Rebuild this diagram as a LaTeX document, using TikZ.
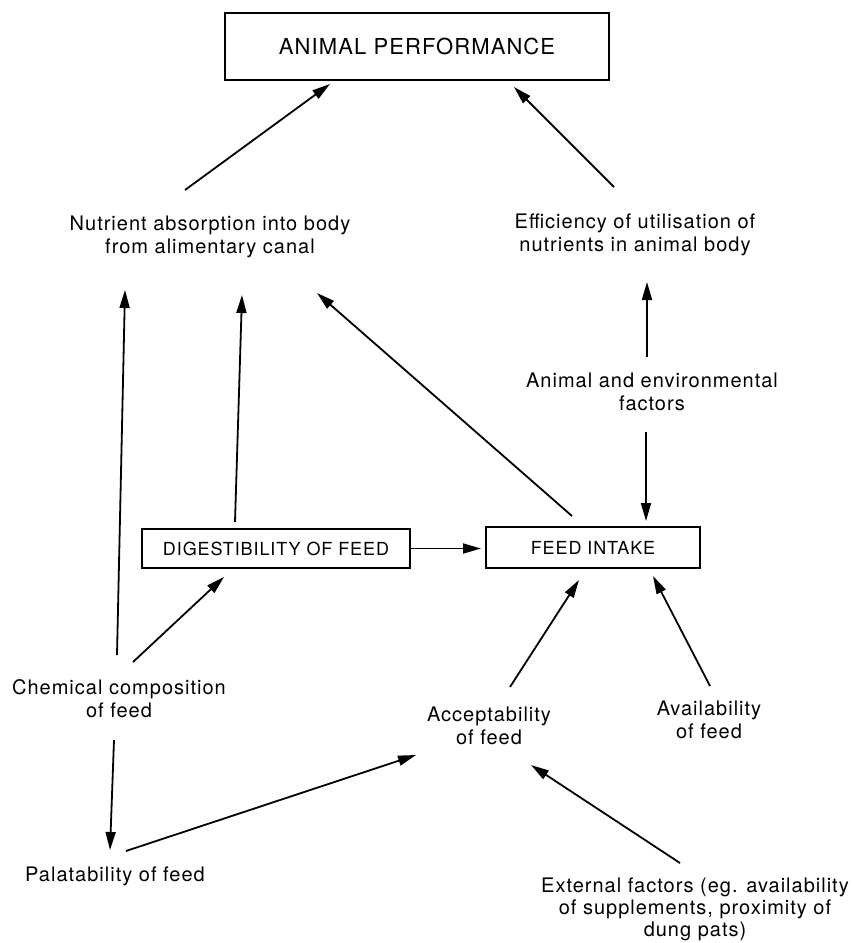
\documentclass[tikz,border=0pt]{standalone}
\usepackage{fontspec}
\setmainfont{TeX Gyre Heros}
\newfontfamily\diagfont{TeX Gyre Heros}[LetterSpace=5]
\usepackage{tikz}
\usetikzlibrary{arrows.meta}

\begin{document}
\begin{tikzpicture}[
        x=0.5pt, y=-0.5pt,
        txt/.style={
            align=center,
            inner sep=0pt,
            font=\diagfont\fontsize{10}{11.5}\selectfont
        },
        box/.style={
            draw,
            line width=1pt,
            inner sep=0pt,
            minimum width=#1,
            font=\diagfont\fontsize{9}{11}\selectfont
        },
        arr/.style={line width=0.9pt, -{Triangle[length=9pt,width=5pt]}}
    ]
    \useasboundingbox (0,0) rectangle (854,943);

    % Boxes
    \node[box=192pt, minimum height=33.5pt, font=\diagfont\fontsize{11}{13}\selectfont] (perf) at (417,46.5) {ANIMAL PERFORMANCE};
    \node[box=134pt, minimum height=19.5pt] (digest) at (276,548.5) {DIGESTIBILITY OF FEED};
    \node[box=107pt, minimum height=20.5pt] (intake) at (593,547.5) {FEED INTAKE};

    % Factors
    \node[txt] (nutr) at (210,237) {Nutrient absorption into body\\from alimentary canal};
    \node[txt] (effic) at (635,235) {Efficiency of utilisation of\\nutrients in animal body};
    \node[txt] (envir) at (652,392) {Animal and environmental\\factors};
    \node[txt] (chem) at (119,699) {Chemical composition\\of feed};
    \node[txt] (palat) at (115,876) {Palatability of feed};
    \node[txt] (accept) at (489,726) {Acceptability\\of feed};
    \node[txt] (avail) at (709,720) {Availability\\of feed};
    \node[txt, font=\diagfont\fontsize{10}{11}\selectfont] (extern) at (695,909) {External factors (eg. availability\\of supplements, proximity of\\dung pats)};

    % Arrows into animal performance
    \draw[arr] ([shift={(-25,-47)}]nutr.center) -- ([shift={(-87,3)}]perf.south);
    \draw[arr] ([shift={(-21,-48)}]effic.center) -- ([shift={(97,6)}]perf.south);
    \draw[arr] ([shift={(-5,-35)}]envir.center) -- ([shift={(12,47)}]effic.center);

    % Arrows round feed intake
    \draw[arr] ([shift={(-6,40)}]envir.center) -- ([shift={(53,-5)}]intake.north);
    \draw[arr] ([shift={(-21,-10)}]intake.north) -- ([shift={(107,56)}]nutr.center);
    \draw[arr, shorten >=2pt] (digest.east) -- (digest.east -| intake.west);
    \draw[arr] ([shift={(-41,-6)}]digest.north) -- ([shift={(32,58)}]nutr.center);
    \draw[arr] ([shift={(21,-39)}]accept.center) -- ([shift={(-14,11)}]intake.south);
    \draw[arr] ([shift={(1,-34)}]avail.center) -- ([shift={(60,7)}]intake.south);

    % Arrows from the feed
    \draw[arr] ([shift={(-2,-44)}]chem.center) -- ([shift={(-85,53)}]nutr.center);
    \draw[arr] ([shift={(14,-37)}]chem.center) -- ([shift={(-52,8)}]digest.south);
    \draw[arr] ([shift={(-5,41)}]chem.center) -- ([shift={(-5,-26)}]palat.center);
    \draw[arr] ([shift={(11,-25)}]palat.center) -- ([shift={(-73,29)}]accept.center);
    \draw[arr] ([shift={(-15,-46)}]extern.center) -- ([shift={(42,39)}]accept.center);

\end{tikzpicture}
\end{document}
